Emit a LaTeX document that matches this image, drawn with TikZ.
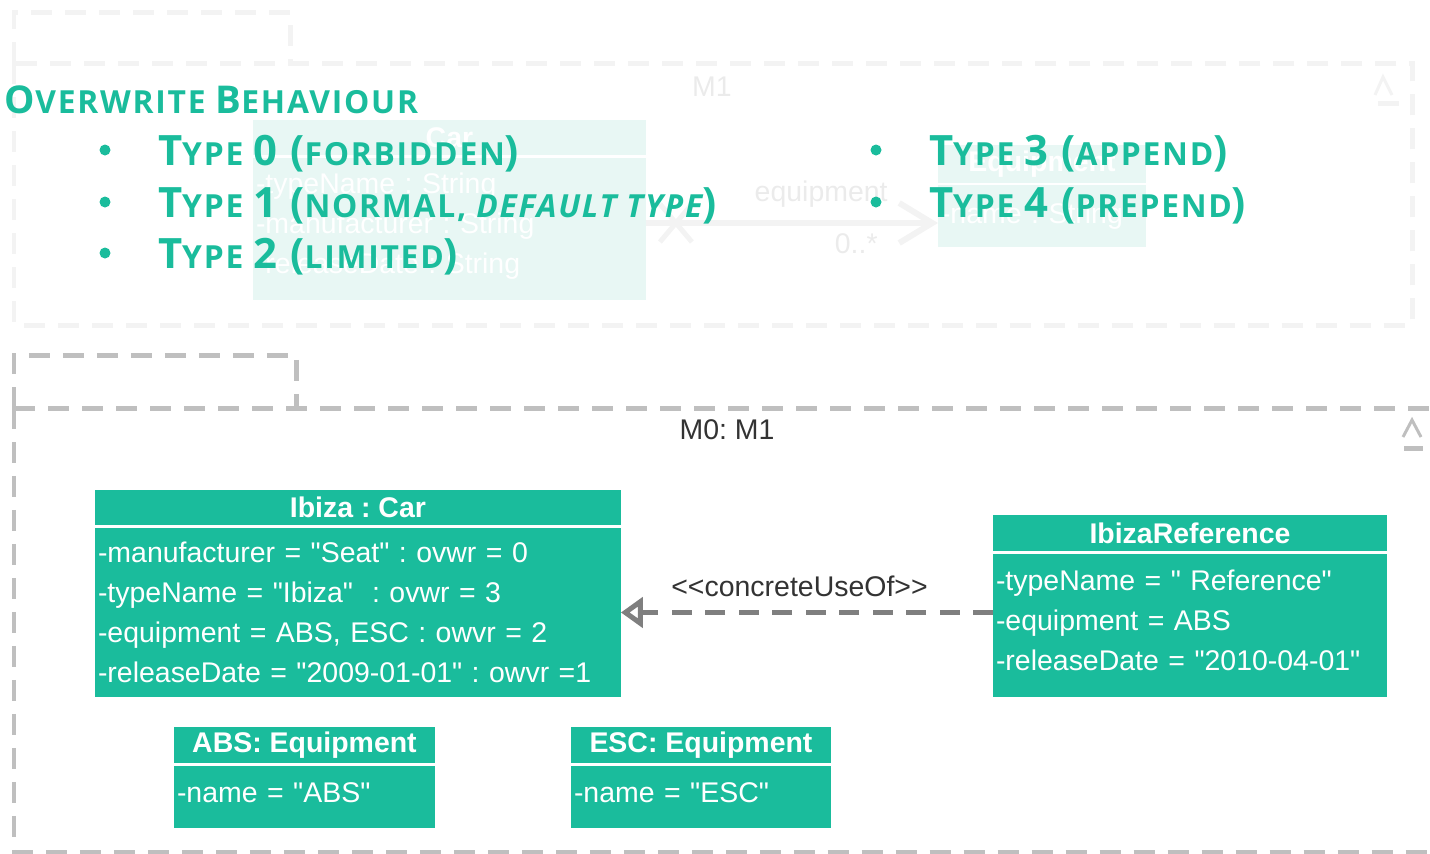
\documentclass[tikz,border=0pt]{standalone}
\usepackage{fontspec}
\newfontfamily\umlfont{Liberation Sans}
\newfontfamily\ovfont{Open Sans}[LetterSpace=5.5]
\usetikzlibrary{positioning}
\usetikzlibrary{arrows.meta}
\definecolor{umlteal}{HTML}{1ABC9C}
\definecolor{fadeteal}{HTML}{E8F7F4}
\definecolor{framegrey}{HTML}{BFBFBF}
\definecolor{fadegrey}{HTML}{F3F3F3}
\definecolor{linegrey}{HTML}{7F7F7F}
\definecolor{labelgrey}{HTML}{333333}
\definecolor{fadetext}{HTML}{EBEBEB}
\newcommand\umlsize{\fontsize{16.2}{22.7}\selectfont}
\newcommand\ovbig{\fontsize{23.8}{26}\selectfont}
\newcommand\ovhead{\fontsize{21.8}{24}\selectfont}
\newcommand\ovsmall{\fontsize{18.1}{20}\selectfont}
\frenchspacing

\begin{document}
\frenchspacing
\begin{tikzpicture}[x=0.02cm,y=-0.02cm,every node/.style={outer sep=0pt},
		objhead/.style={fill=umlteal,text=white,inner sep=0pt,anchor=north west,
		font=\umlfont\bfseries\umlsize},
		objbody/.style={fill=umlteal,text=white,inner xsep=0.06cm,inner ysep=0pt,
		align=left,font=\umlfont\umlsize},
		fadehead/.style={objhead,fill=fadeteal},
		fadebody/.style={objbody,fill=fadeteal},
		package/.style={line width=0.1cm,dash pattern=on 0.42cm off 0.26cm},
		ovtext/.style={text=umlteal,inner sep=0pt,anchor=base west,font=\ovfont\bfseries},
		ovdot/.style={circle,fill=umlteal,minimum size=0.22cm,inner sep=0pt},
		]
		\useasboundingbox (0,0) rectangle (1430,853);

		% faded M1 package
		\draw[package,fadegrey] (14,63) -- (14,12) -- (290,12) -- (290,63);
		\draw[package,fadegrey] (14,63) rectangle (1412,325);
		\node[text=fadetext,font=\umlfont\umlsize] (m1label) at (712,87) {M1};
		\draw[fadegrey,line width=0.06cm] (1375,95) -- (1383,77) -- (1392,95);
		\draw[fadegrey,line width=0.1cm] (1378,103) -- (1399,103);

		\node[fadehead,minimum width=7.86cm,minimum height=0.70cm] (carhead) at (253,120) {Car};
		\node[fadebody,below=0.06cm of carhead,minimum height=2.84cm,text width=7.74cm,
		text depth=1.84cm] (carbody)
		{-typeName : String\\-manufacturer : String\\-releaseDate : String};
		\node[fadehead,minimum width=4.16cm,minimum height=0.76cm] (equiphead) at (938,145) {Equipment};
		\node[fadebody,below=0.04cm of equiphead,minimum height=1.24cm,text width=4.04cm] (equipbody)
		{-name : String};

		\coordinate (assoc) at (0,223);
		\draw[fadegrey,line width=0.12cm,-{Straight Barb[length=0.66cm,width=0.8cm]}]
		(carbody.east |- assoc) -- (equipbody.west |- assoc)
		node[pos=0.6,above=0.2cm,text=fadetext,font=\umlfont\umlsize] (assocname) {equipment}
		node[pos=0.72,below=0.1cm,text=fadetext,font=\umlfont\umlsize] (assocmult) {0..*};
		\draw[fadegrey,line width=0.1cm] ([shift={(14,-19)}]carbody.east |- assoc) -- ++(32,38)
		([shift={(14,19)}]carbody.east |- assoc) -- ++(32,-38);

		% M0 package
		\draw[package,framegrey] (14,408) -- (14,355) -- (296,355) -- (296,408);
		\draw[package,framegrey] (14,408) rectangle (1450,852);
		\node[text=labelgrey,font=\umlfont\umlsize] (m0label) at (727,430) {M0: M1};
		\draw[framegrey,line width=0.06cm] (1403,437) -- (1412,420) -- (1421,437);
		\draw[framegrey,line width=0.1cm] (1404,448) -- (1423,448);

		\node[objhead,minimum width=10.52cm,minimum height=0.70cm] (ibizahead) at (95,490) {Ibiza : Car};
		\node[objbody,below=0.06cm of ibizahead,minimum height=3.38cm,text width=10.40cm] (ibizabody)
		{-manufacturer = "Seat" : ovwr = 0\\-typeName = "Ibiza"\ \ : ovwr = 3\\
		-equipment = ABS, ESC : owvr = 2\\-releaseDate = "2009-01-01" : owvr =1};

		\node[objhead,minimum width=7.88cm,minimum height=0.72cm] (refhead) at (993,515) {IbizaReference};
		\node[objbody,below=0.06cm of refhead,minimum height=2.86cm,text width=7.76cm,
		text depth=1.80cm] (refbody)
		{-typeName = " Reference"\\-equipment = ABS\\-releaseDate = "2010-04-01"};

		\node[objhead,minimum width=5.22cm,minimum height=0.72cm] (abshead) at (174,727) {ABS: Equipment};
		\node[objbody,below=0.06cm of abshead,minimum height=1.24cm,text width=5.10cm,
		text depth=0.16cm] (absbody) {-name = "ABS"};
		\node[objhead,minimum width=5.20cm,minimum height=0.72cm] (eschead) at (571,727) {ESC: Equipment};
		\node[objbody,below=0.06cm of eschead,minimum height=1.24cm,text width=5.08cm,
		text depth=0.16cm] (escbody) {-name = "ESC"};

		\draw[linegrey,line width=0.1cm,dash pattern=on 0.4cm off 0.27cm,
		-{Triangle[open,length=0.44cm,width=0.6cm]}]
		(refbody.west |- ibizabody.east) -- (ibizabody.east)
		node[pos=0.52,yshift=0.52cm,text=labelgrey,font=\umlfont\umlsize] (deplabel) {<<concreteUseOf>>};

		% overwrite behaviour
		\node[ovtext] (ovtitle) at (5,113) {\ovhead O\ovsmall VERWRITE \ovhead B\ovsmall EHAVIOUR};
		\node[ovdot] (dot0) at (105,150) {};
		\node[ovdot] (dot1) at (105,202) {};
		\node[ovdot] (dot2) at (105,253) {};
		\node[ovdot] (dot3) at (876,150) {};
		\node[ovdot] (dot4) at (876,202) {};
		\node[ovtext] (type0) at (158,165) {\ovbig T\ovsmall YPE \ovbig 0 (\ovsmall FORBIDDEN\ovbig )};
		\node[ovtext] (type1) at (158,217)
		{\ovbig T\ovsmall YPE \ovbig 1 (\ovsmall NORMAL, \itshape DEFAULT TYPE\upshape\ovbig )};
		\node[ovtext] (type2) at (158,268) {\ovbig T\ovsmall YPE \ovbig 2 (\ovsmall LIMITED\ovbig )};
		\node[ovtext] (type3) at (929,165) {\ovbig T\ovsmall YPE \ovbig 3 (\ovsmall APPEND\ovbig )};
		\node[ovtext] (type4) at (929,217) {\ovbig T\ovsmall YPE \ovbig 4 (\ovsmall PREPEND\ovbig )};
\end{tikzpicture}
\end{document}
